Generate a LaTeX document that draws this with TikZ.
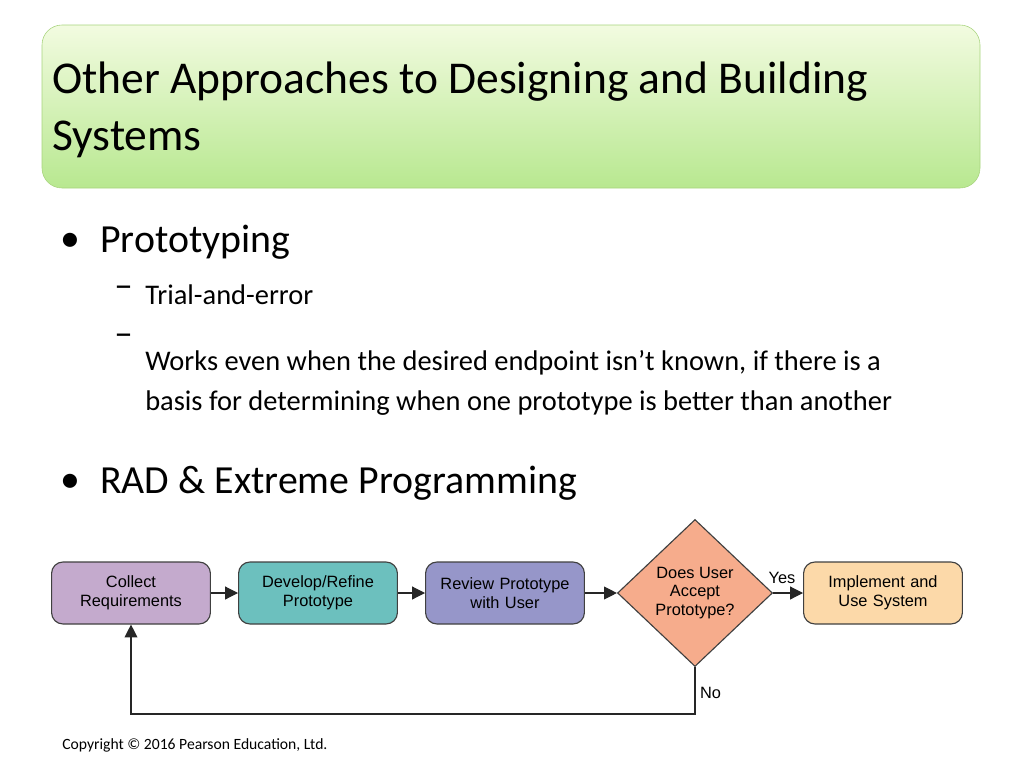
\documentclass[tikz,border=0pt]{standalone}
\usepackage{fontspec}
\setmainfont{Carlito}
\newfontfamily\chartfont{Liberation Sans}
\usetikzlibrary{shapes.geometric,arrows.meta}
\definecolor{titletop}{HTML}{F2FBE0}
\definecolor{titlebot}{HTML}{B8E890}
\definecolor{titleedge}{HTML}{A8D47E}
\definecolor{collectfill}{HTML}{C4AACD}
\definecolor{developfill}{HTML}{6CC0BE}
\definecolor{reviewfill}{HTML}{9696C9}
\definecolor{acceptfill}{HTML}{F6AC8C}
\definecolor{implementfill}{HTML}{FCD9A9}
\tikzstyle{Step}=[rectangle, rounded corners=8, minimum width=152*0.703pt, minimum height=62*0.703pt, text width=105pt, align=center, draw=black!75, thick, font=\chartfont\fontsize{11.5}{13}\selectfont]
\tikzstyle{Flow}=[-{Triangle[length=9pt,width=9pt]}, thick, draw=black!85]
\tikzstyle{Sub}=[anchor=west, inner sep=0pt, text width=752*0.703pt, align=flush left, font=\fontsize{20}{28.5}\selectfont]
\tikzstyle{Dash}=[anchor=west, inner sep=0pt, font=\fontsize{26}{28}\selectfont]
\tikzstyle{Top}=[anchor=west, inner sep=0pt, font=\fontsize{28}{34}\selectfont]

\begin{document}
\begin{tikzpicture}[x=0.703pt, y=-0.703pt]
    \useasboundingbox (0,0) rectangle (1024,768);
    \shade[top color=titletop, bottom color=titlebot, draw=titleedge, rounded corners=14]
        (42,25) rectangle (980,188);
    \path
    (52,110) node[anchor=west, inner sep=0pt, text width=900*0.703pt, align=flush left, font=\fontsize{32}{40.5}\selectfont] (title) {Other Approaches to Designing and Building Systems};

    \path
    (60,242) node[Top] (b1) {•}
    (100,242) node[Top] (proto) {Prototyping}
    (114,292) node[Dash] (d1) {–}
    (145,295) node[Sub] (trial) {Trial-and-error}
    (114,340) node[Dash] (d2) {–}
    (145,383) node[Sub] (works) {Works even when the desired endpoint isn’t known, if there is a basis for determining when one prototype is better than another}
    (60,483) node[Top] (b2) {•}
    (100,483) node[Top] (rad) {RAD \& Extreme Programming};

    \path
    (131,593) node[Step, fill=collectfill] (collect) {Collect\\Requirements}
    (318,593) node[Step, fill=developfill] (develop) {Develop/Refine\\Prototype}
    (505,593) node[Step, fill=reviewfill] (review) {Review Prototype\\with User}
    (695,593) node[diamond, draw=black!75, thick, fill=acceptfill, minimum width=155*0.703pt, minimum height=147*0.703pt, inner sep=0pt, align=center, font=\chartfont\fontsize{11.5}{13}\selectfont] (accept) {Does User\\Accept\\Prototype?}
    (883,593) node[Step, fill=implementfill] (implement) {Implement and\\Use System}
    (695,714) coordinate (loop);

    \draw[Flow] (collect) -- (develop);
    \draw[Flow] (develop) -- (review);
    \draw[Flow] (review) -- (accept);
    \draw[Flow] (accept) -- node[above, pos=0.3, yshift=3pt, font=\chartfont\fontsize{11.5}{13}\selectfont] (yes) {Yes} (implement);
    \draw[Flow] (accept.south) -- (loop) -| (collect.south);
    \path (accept.south) ++(0,26) node[anchor=west, font=\chartfont\fontsize{11.5}{13}\selectfont] (no) {No};

    \path
    (62,745) node[anchor=west, inner sep=0pt, font=\fontsize{11}{13}\selectfont] (copy) {Copyright © 2016 Pearson Education, Ltd.};
\end{tikzpicture}
\end{document}
